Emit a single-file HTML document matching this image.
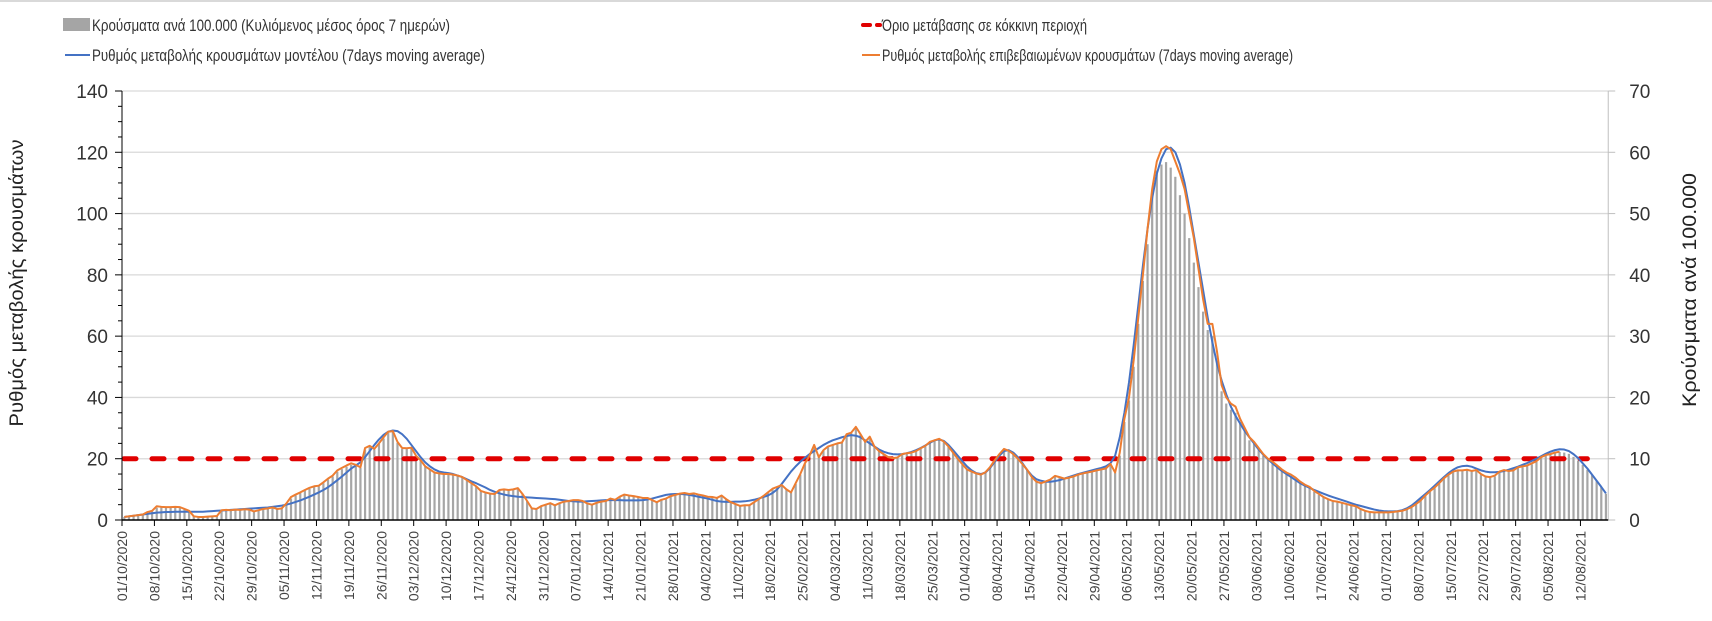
<!DOCTYPE html>
<html><head><meta charset="utf-8">
<style>
html,body{margin:0;padding:0;background:#fff;}
svg{display:block;font-family:"Liberation Sans","DejaVu Sans",sans-serif;}
</style></head>
<body>
<svg id="chart" width="1712" height="621" viewBox="0 0 1712 621" xmlns="http://www.w3.org/2000/svg">
<rect x="0" y="0" width="1712" height="621" fill="#fff"/>
<line x1="0" y1="1" x2="1712" y2="1" stroke="#d9d9d9" stroke-width="2"/>
<g id="grid"></g>
<g id="bars"></g>
<g id="lines"></g>
<g id="axes"></g>
<g font-size="17" fill="#333">
  <g>
    <rect x="63" y="18" width="27" height="13" fill="#a5a5a5"/>
    <text x="92" y="31" textLength="358" lengthAdjust="spacingAndGlyphs">Κρούσματα ανά 100.000 (Κυλιόμενος μέσος όρος 7 ημερών)</text>
  </g>
  <g>
    <line x1="65" y1="55" x2="90" y2="55" stroke="#4472c4" stroke-width="2"/>
    <text x="92" y="61" textLength="393" lengthAdjust="spacingAndGlyphs">Ρυθμός μεταβολής κρουσμάτων μοντέλου (7days moving average)</text>
  </g>
  <g>
    <line x1="863" y1="25" x2="870" y2="25" stroke="#e00000" stroke-width="4" stroke-linecap="round"/>
    <line x1="877" y1="25" x2="880" y2="25" stroke="#e00000" stroke-width="4" stroke-linecap="round"/>
    <text x="882" y="31" textLength="205" lengthAdjust="spacingAndGlyphs">Όριο μετάβασης σε κόκκινη περιοχή</text>
  </g>
  <g>
    <line x1="862" y1="55" x2="880" y2="55" stroke="#ed7d31" stroke-width="2"/>
    <text x="882" y="61" textLength="411" lengthAdjust="spacingAndGlyphs">Ρυθμός μεταβολής επιβεβαιωμένων κρουσμάτων (7days moving average)</text>
  </g>
</g>
<text x="0" y="0" font-size="19" fill="#222" text-anchor="middle" transform="translate(23,283) rotate(-90)" textLength="287" lengthAdjust="spacingAndGlyphs">Ρυθμός μεταβολής κρουσμάτων</text>
<text x="0" y="0" font-size="19" fill="#222" text-anchor="middle" transform="translate(1696,290) rotate(-90)" textLength="234" lengthAdjust="spacingAndGlyphs">Κρούσματα ανά 100.000</text>
</svg>
<script>
const startDay = [2020, 9, 1];
const leftTicks = [0,20,40,60,80,100,120,140];
const rightTicks = [0,10,20,30,40,50,60,70];
const threshold = [20];
const modelRate = [
1,1.2,1.4,1.6,1.8,2,2.2,
2.4,2.5,2.6,2.6,2.7,2.7,2.7,
2.7,2.7,2.7,2.7,2.8,2.9,3,
3.1,3.2,3.3,3.4,3.5,3.6,3.7,
3.8,3.9,4,4.1,4.3,4.5,4.7,
5,5.4,5.9,6.4,7,7.6,8.3,
9,9.8,10.7,11.8,13,14.2,15.5,
16.8,17.8,18.8,20.5,22.5,24.5,26.3,
27.8,28.8,29.2,29,28,26.5,24.5,
22.5,20.5,18.8,17.5,16.5,15.8,15.5,
15.3,15,14.5,14,13.3,12.6,12,
11.3,10.6,9.8,9.2,8.7,8.3,8,
7.8,7.6,7.5,7.4,7.3,7.2,7.1,
7,6.9,6.8,6.6,6.4,6.2,6.1,
6,6,6.1,6.2,6.3,6.4,6.5,
6.5,6.5,6.5,6.4,6.4,6.4,6.4,
6.5,6.7,7,7.4,7.8,8.2,8.4,
8.5,8.5,8.4,8.2,7.9,7.6,7.3,
7,6.6,6.2,6,5.9,5.9,6,
6,6.1,6.3,6.6,7,7.5,8,
8.8,10,11.8,13.8,15.8,17.5,19,
20.3,21.5,22.5,23.5,24.5,25.3,26,
26.5,27,27.4,27.7,27.5,27,26,
25,24,23,22.3,21.8,21.5,21.4,
21.5,21.8,22.2,22.8,23.5,24.3,25.2,
26,26.3,25.8,24.5,22.8,21,19.2,
17.5,16.2,15.3,15,15.5,17,19,
21,22.5,22.8,22,20.5,18.5,16.3,
14.5,13.3,12.8,12.5,12.5,12.7,13,
13.5,14,14.5,15,15.4,15.8,16.2,
16.6,17,17.5,18.5,21,27,35,
45,57,70,83,95,105,113,
118,121,121.5,120,116,110,102,
93,84,75,66,58,51,45.5,
41,37,34,31.5,29,27,25,
23,21.3,19.8,18.5,17.2,16,15,
14,13,12,11.2,10.5,9.8,9.2,
8.6,8,7.5,7,6.5,6,5.5,
5,4.6,4.2,3.8,3.4,3.1,2.9,
2.8,2.8,2.9,3.2,3.8,4.7,5.9,
7.2,8.5,9.8,11.2,12.6,14,15.3,
16.4,17.2,17.6,17.7,17.4,16.8,16.2,
15.8,15.6,15.6,15.7,16,16.4,16.9,
17.4,18,18.6,19.3,20,20.8,21.6,
22.3,22.8,23.1,23,22.5,21.5,20.2,
18.5,16.8,14.8,12.8,10.8,8.7];
const confirmedRate = [
1,1.2,1.4,1.6,1.8,2.6,3,
4.5,4.3,4.2,4.2,4.3,4.2,3.6,
3,1.2,1,1,1.1,1.2,1.3,
3.2,3.3,3.2,3.4,3.3,3.5,3.4,
2.8,3.2,3.6,3.8,4.1,3.6,3.8,
5.4,7.5,8.3,9,9.8,10.5,11,
11.2,12.3,13.5,14.5,16.2,17,17.8,
18.5,18,17.2,23.5,24.2,23.2,25,
27,28.8,29,25.5,23.5,23.4,23.6,
21,19.5,17.5,16.5,15.5,15.2,15,
15,14.8,14.5,14,13,12,11,
9.5,9,8.6,8.5,9.8,10,9.8,
10,10.4,8.5,6.2,3.8,3.6,4.5,
5,5.5,4.8,5.5,6,6.2,6.5,
6.5,6.2,5.4,5,5.6,6,6.2,
7,6.6,7.6,8.3,8,7.8,7.5,
7.2,7.2,6.5,5.8,6.6,7,7.8,
8.2,8.6,8.8,8.5,8.7,8.3,8,
7.6,7.5,7.2,8,6.8,5.8,5.2,
4.6,4.8,4.8,5.8,6.8,7.8,9,
10.2,10.8,11.4,10,9,12,15,
18.5,21,24.5,20.5,22.8,24,24.5,
25,25.3,28,28.5,30.4,28,25.5,
27.2,24,22.5,21.5,20.5,20.2,20.4,
21.5,21.8,22,22.5,23.4,24.2,25.5,
26,26.5,25.6,24,22,20,18.2,
16.5,15.8,15.2,14.8,15.6,17.3,19.5,
21.5,23.2,22.6,21.5,20,18.2,16.4,
14,12.5,12,12.6,13.2,14.4,14,
13.5,13.8,14.2,14.8,15.2,15.5,15.8,
16.2,16.5,16.8,18.3,15.5,22,33,
40,52,66,80,95,108,117,
121,122,121,117,113,108,100,
92,82,72,64,64,55,44,
40,38,37,33,30,27,25.5,
23.5,21.5,20,19,17.8,16.5,15.5,
14.8,13.8,12.5,11.5,10.8,9.5,8.5,
7.5,6.8,6.2,6,5.6,5.2,4.8,
4.5,3.6,3,2.6,2.5,2.5,2.5,
2.5,2.6,2.8,3,3.5,4.2,5.2,
6.4,8,9.4,10.6,12,13.6,14.8,
15.8,16.2,16.2,16.4,16,16.3,15,
14.2,14,14.5,15.8,16.3,16,16.2,
17.2,17.5,17.8,18.5,19.2,20.5,21.2,
21.5,22,22.3];
const casesPer100k = [
0.5,0.6,0.7,0.8,0.9,1.2,1.5,
2,2.1,2,2,2.1,2,1.8,
1.5,0.7,0.5,0.5,0.6,0.6,0.7,
1.5,1.6,1.6,1.7,1.6,1.7,1.7,
1.4,1.5,1.7,1.9,2,1.8,1.9,
2.5,3.5,4,4.4,4.8,5.1,5.4,
5.5,6,6.6,7.1,7.9,8.3,8.7,
9,8.8,8.5,11.5,12,11.5,12.4,
13.3,14.2,14.4,12.6,11.6,11.6,11.7,
10.4,9.7,8.7,8.2,7.7,7.5,7.4,
7.4,7.3,7.2,6.9,6.4,5.9,5.4,
4.7,4.4,4.2,4.2,4.8,4.9,4.8,
4.9,5.1,4.2,3.1,1.9,1.8,2.2,
2.5,2.7,2.4,2.7,3,3.1,3.2,
3.2,3.1,2.7,2.5,2.8,3,3.1,
3.5,3.3,3.7,4.1,4,3.9,3.7,
3.6,3.6,3.2,2.9,3.3,3.5,3.9,
4.1,4.3,4.4,4.2,4.3,4.1,4,
3.8,3.7,3.6,3.9,3.4,2.9,2.6,
2.3,2.4,2.4,2.9,3.4,3.9,4.4,
5,5.3,5.6,5,4.5,5.9,7.4,
9.1,10.4,12.1,10.2,11.3,11.9,12.2,
12.4,12.6,13.9,14.2,15.1,13.9,12.7,
13.5,11.9,11.2,10.7,10.2,10,10.1,
10.7,10.8,10.9,11.2,11.6,12,12.7,
12.9,13.2,12.7,11.9,10.9,9.9,9,
8.2,7.8,7.5,7.3,7.7,8.6,9.7,
10.7,11.5,11.2,10.7,9.9,9,8.1,
6.9,6.2,5.9,6.2,6.6,7.1,6.9,
6.7,6.9,7.1,7.4,7.6,7.7,7.9,
8.1,8.2,8.4,9.1,7.7,10.5,16,
19.5,25,32,39,45,53,57,
58,58.4,57.5,56,53,50,46,
42,38,34,31,30,26,21,
19,18,17.5,16,14.5,13,12.4,
11.4,10.5,9.8,9.3,8.7,8,7.5,
7.2,6.7,6.1,5.6,5.3,4.6,4.1,
3.7,3.3,3,2.9,2.7,2.5,2.3,
2.2,1.7,1.4,1.2,1.2,1.2,1.2,
1.2,1.2,1.3,1.4,1.7,2,2.5,
3.1,3.9,4.6,5.2,5.9,6.7,7.3,
7.8,8,8,8.1,7.9,8,7.4,
7,6.9,7.1,7.8,8,7.9,8,
8.5,8.6,8.8,9.1,9.5,10.1,10.5,
10.6,10.9,11.1,11,10.8,10.3,9.7,
9,8.2,7.3,6.4,5.4,4.3];

const NS = 'http://www.w3.org/2000/svg';
const X0 = 122, DAYW = 4.63, Y0 = 520, YTOP = 91;
const nDays = casesPer100k.length;
function xBand(i){ return X0 + i*DAYW; }
function xC(i){ return X0 + (i+0.5)*DAYW; }
function yL(v){ return Y0 - v*(Y0-YTOP)/140; }
function yR(v){ return Y0 - v*(Y0-YTOP)/70; }
function mk(tag, attrs, parent){
  const e = document.createElementNS(NS, tag);
  for (const k in attrs) e.setAttribute(k, attrs[k]);
  parent.appendChild(e);
  return e;
}
const grid = document.getElementById('grid');
const bars = document.getElementById('bars');
const lines = document.getElementById('lines');
const axes = document.getElementById('axes');
const xEnd = xBand(nDays);

leftTicks.forEach(function(v){
  if (v > 0) {
    const g = mk('line', {x1:X0, x2:xEnd, y1:yL(v), y2:yL(v), stroke:'#d9d9d9', 'stroke-width':1.3}, grid);
    
    
  }
  const t = mk('line', {x1:X0-7, x2:X0, y1:yL(v), y2:yL(v), stroke:'#000', 'stroke-width':1}, axes);
  
  
  const lb = mk('text', {x:X0-14, y:yL(v)+7, 'font-size':19, fill:'#333', 'text-anchor':'end'}, axes);
  lb.textContent = v;
  
  
});
for (let v = 5; v < 140; v += 5) {
  if (v % 20 === 0) continue;
  const t = mk('line', {x1:X0-4, x2:X0, y1:yL(v), y2:yL(v), stroke:'#000', 'stroke-width':1}, axes);
  
  
}
rightTicks.forEach(function(v){
  const t = mk('line', {x1:xEnd, x2:xEnd+7, y1:yR(v), y2:yR(v), stroke:'#bfbfbf', 'stroke-width':1}, axes);
  
  
  const lb = mk('text', {x:xEnd+21, y:yR(v)+7, 'font-size':19, fill:'#333'}, axes);
  lb.textContent = v;
  
  
});

casesPer100k.forEach(function(v, i){
  const r = mk('rect', {x:xC(i)-1.1, y:yR(v), width:2.2, height:Y0-yR(v), fill:'#a6a6a6'}, bars);
  
  
});

const th = mk('line', {x1:X0+2, x2:xC(316), y1:yL(threshold[0]), y2:yL(threshold[0]), stroke:'#e00000', 'stroke-width':5, 'stroke-dasharray':'12 16', 'stroke-linecap':'round'}, lines);



function pathOf(arr){
  let d = '';
  arr.forEach(function(v, i){ if (v == null) return; d += (d ? 'L' : 'M') + xC(i).toFixed(2) + ',' + yL(v).toFixed(2); });
  return d;
}
const pm = mk('path', {d:pathOf(modelRate), fill:'none', stroke:'#4472c4', 'stroke-width':2, 'stroke-linejoin':'round'}, lines);


const pc = mk('path', {d:pathOf(confirmedRate), fill:'none', stroke:'#ed7d31', 'stroke-width':2, 'stroke-linejoin':'round'}, lines);



const la = mk('line', {x1:X0, x2:X0, y1:YTOP, y2:Y0, stroke:'#000', 'stroke-width':1}, axes);


const ra = mk('line', {x1:xEnd, x2:xEnd, y1:YTOP, y2:Y0, stroke:'#bfbfbf', 'stroke-width':1}, axes);


const xa = mk('line', {x1:X0, x2:xEnd, y1:Y0, y2:Y0, stroke:'#000', 'stroke-width':1.5}, axes);



function pad(n){ return (n < 10 ? '0' : '') + n; }
for (let i = 0; i < nDays; i += 7) {
  const dt = new Date(startDay[0], startDay[1], startDay[2] + i);
  const lbl = pad(dt.getDate()) + '/' + pad(dt.getMonth()+1) + '/' + dt.getFullYear();
  const t = mk('line', {x1:xBand(i), x2:xBand(i), y1:Y0, y2:Y0+6, stroke:'#000', 'stroke-width':1}, axes);
  
  
  const x = xBand(i) + 5;
  const tx = mk('text', {x:0, y:0, 'font-size':14, fill:'#444', 'text-anchor':'end', transform:'translate(' + x + ',531) rotate(-90)'}, axes);
  tx.textContent = lbl;
  
  
}
</script>
</body></html>
